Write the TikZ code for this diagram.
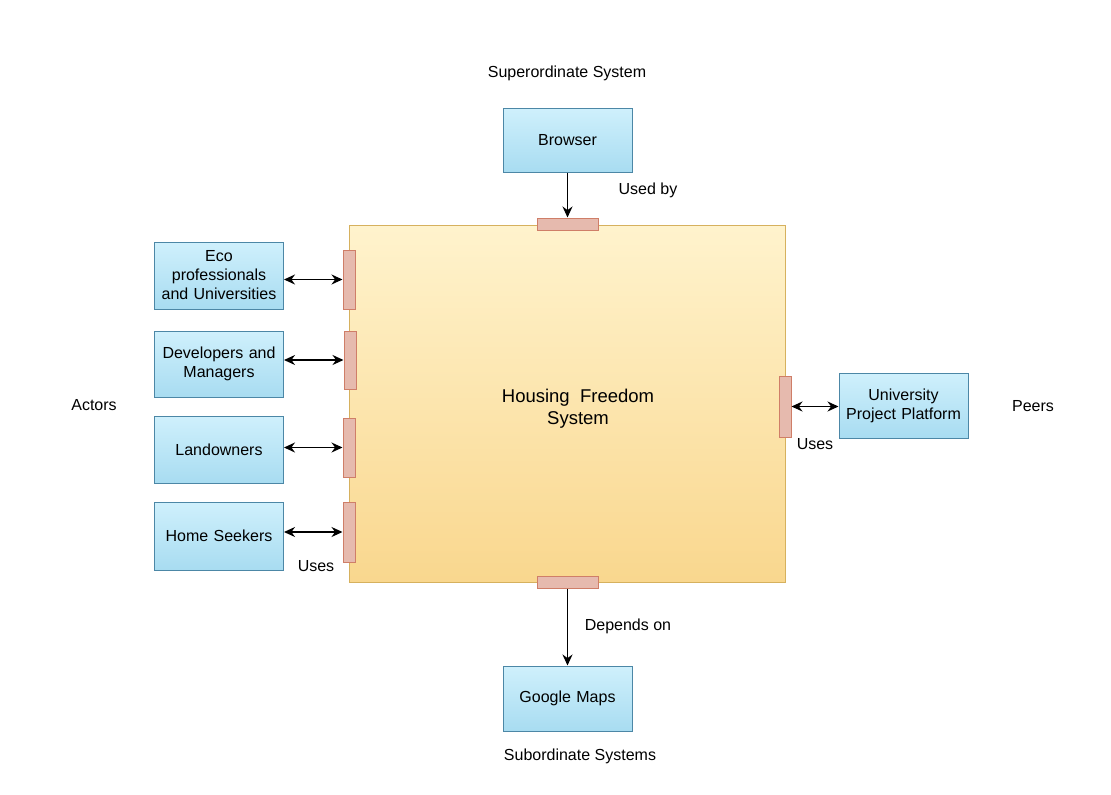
\documentclass[tikz,border=0pt]{standalone}
\usepackage{fontspec}
\setmainfont{Liberation Sans}
\usetikzlibrary{arrows.meta}
\definecolor{bluetop}{HTML}{CFF0FC}
\definecolor{bluebot}{HTML}{A8DCF1}
\definecolor{bluestroke}{HTML}{4C87A6}
\definecolor{yeltop}{HTML}{FFF3CD}
\definecolor{yelbot}{HTML}{F9D78E}
\definecolor{yelstroke}{HTML}{D6B15E}
\definecolor{portfill}{HTML}{E6BAAE}
\definecolor{portstroke}{HTML}{CF7E68}
\tikzset{
  sysbox/.style={draw=bluestroke, line width=1pt, top color=bluetop, bottom color=bluebot,
    minimum width=129pt, minimum height=65pt, inner sep=1pt, align=center, text width=127pt,
    font=\fontsize{16}{19}\selectfont},
  hport/.style={draw=portstroke, line width=1pt, fill=portfill, minimum width=61pt, minimum height=12pt, inner sep=0pt},
  vport/.style={draw=portstroke, line width=1pt, fill=portfill, minimum width=12pt, minimum height=59pt, inner sep=0pt},
  lbl/.style={font=\fontsize{16}{18.5}\selectfont, inner sep=0pt, yshift=-1.5pt},
  arr/.style={-{Stealth[length=11pt,width=10pt]}, line width=1.4pt},
  dbl/.style={{Stealth[length=11pt,width=10pt]}-{Stealth[length=11pt,width=10pt]}, line width=1.4pt},
}
\begin{document}
\begin{tikzpicture}[x=1pt,y=-1pt]
\useasboundingbox (0,0) rectangle (1111,795);
% main system
\node[draw=yelstroke, line width=0.8pt, top color=yeltop, bottom color=yelbot,
  minimum width=436pt, minimum height=357pt, inner sep=0pt] (main) at (567,403.5) {};
\node[font=\fontsize{18.5}{22}\selectfont, align=center, yshift=-2pt] (maintext) at (578,407) {Housing\ \ Freedom\\System};
% top
\node[lbl] (super) at (567,72) {Superordinate System};
\node[sysbox, minimum height=64pt] (browser) at (567.5,140) {Browser};
\node[hport] (ptop) at (567.5,224) {};
\draw[arr] (browser.south) -- (ptop.north);
\node[lbl] (usedby) at (648,189) {Used by};
% bottom
\node[hport] (pbot) at (567.5,582) {};
\node[sysbox] (gmaps) at (567.5,698.5) {Google Maps};
\draw[arr] (pbot.south) -- (gmaps.north);
\node[lbl] (depends) at (628,625) {Depends on};
\node[lbl] (sub) at (580,755) {Subordinate Systems};
% left actors
\node[lbl] (actors) at (94,404) {Actors};
\node[sysbox, minimum height=67pt] (eco) at (219,275.5) {Eco\\professionals\\and Universities};
\node[sysbox, minimum height=66pt] (dev) at (219,364) {Developers and\\Managers};
\node[sysbox, minimum height=67pt] (land) at (219,449.5) {Landowners};
\node[sysbox, minimum height=68pt] (home) at (219,536) {Home Seekers};
\node[vport] (pe) at (349,279.5) {};
\node[vport, minimum height=58pt] (pd) at (350,360) {};
\node[vport] (pl) at (349,447.5) {};
\node[vport, minimum height=60pt] (ph) at (349,532) {};
\draw[dbl] (pe.west -| eco.east) -- (pe.west);
\draw[dbl] (pd.west -| dev.east) -- (pd.west);
\draw[dbl] (pl.west -| land.east) -- (pl.west);
\draw[dbl] (ph.west -| home.east) -- (ph.west);
\node[lbl] (usesl) at (316,565) {Uses};
% right peers
\node[vport, minimum height=61pt] (pr) at (785,406.5) {};
\node[sysbox] (uni) at (903.5,405.5) {University\\Project Platform};
\draw[dbl] (pr.east) -- (pr.east -| uni.west);
\node[lbl] (usesr) at (815,443) {Uses};
\node[lbl] (peers) at (1033,405) {Peers};
\end{tikzpicture}
\end{document}
